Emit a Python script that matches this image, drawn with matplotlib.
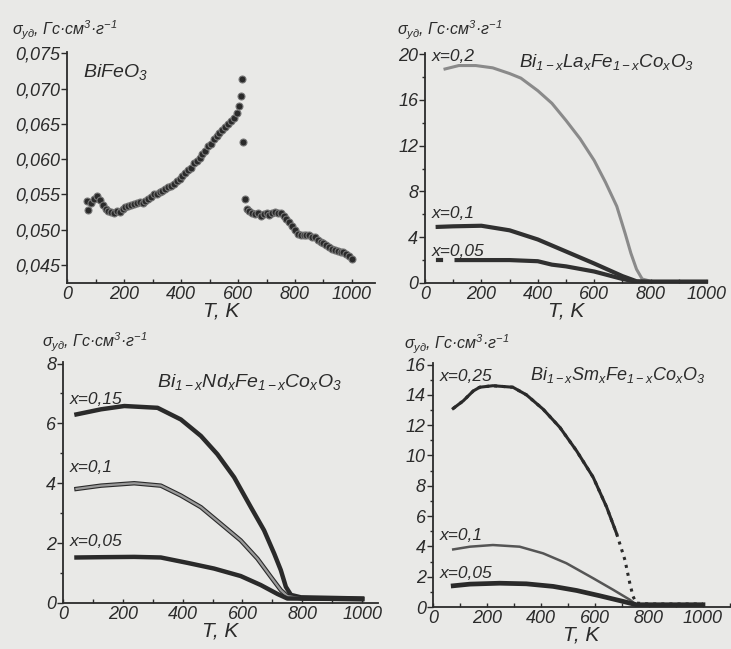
import matplotlib
matplotlib.use("Agg")
import matplotlib.pyplot as plt
from matplotlib.ticker import MultipleLocator

plt.rcParams['font.family'] = ['Liberation Sans', 'DejaVu Sans']
plt.rcParams['font.style'] = 'italic'
plt.rcParams['mathtext.fontset'] = 'custom'
plt.rcParams['mathtext.it'] = 'Liberation Sans:italic'
plt.rcParams['mathtext.rm'] = 'Liberation Sans:italic'
plt.rcParams['mathtext.sf'] = 'Liberation Sans:italic'

# ---- BiFeO3 ----
bfo_T1 = [70, 75, 85, 95, 105, 115, 125, 135, 145, 155, 165, 175, 185, 195, 205, 215, 225,
          235, 245, 255, 265, 275, 285, 295, 305, 315, 325, 335, 345, 355, 365, 375, 385,
          395, 405, 415, 425, 435, 445, 455, 465, 475, 485, 495, 505, 515, 525, 535, 545,
          555, 565, 575, 585, 595, 605, 612, 615, 617]
bfo_s1 = [0.0540, 0.0528, 0.0538, 0.0543, 0.0548, 0.0542, 0.0535, 0.0530, 0.0527, 0.0525,
          0.0524, 0.0526, 0.0525, 0.0530, 0.0532, 0.0533, 0.0535, 0.0536, 0.0538, 0.0539,
          0.0538, 0.0541, 0.0543, 0.0547, 0.0550, 0.0551, 0.0553, 0.0555, 0.0557, 0.0560,
          0.0562, 0.0565, 0.0569, 0.0572, 0.0576, 0.0580, 0.0584, 0.0588, 0.0594, 0.0598,
          0.0602, 0.0607, 0.0611, 0.0618, 0.0622, 0.0628, 0.0633, 0.0637, 0.0642, 0.0646,
          0.0650, 0.0654, 0.0659, 0.0666, 0.0675, 0.0690, 0.0713, 0.0625]
bfo_T2 = [625, 630, 640, 650, 660, 670, 680, 690, 700, 710, 720, 730, 740, 750, 760, 770,
          780, 790, 800, 810, 820, 830, 840, 850, 860, 870, 880, 890, 900, 910, 920, 930,
          940, 950, 960, 970, 980, 990, 1000]
bfo_s2 = [0.0543, 0.0530, 0.0526, 0.0524, 0.0522, 0.0523, 0.0519, 0.0522, 0.0523, 0.0521,
          0.0524, 0.0525, 0.0524, 0.0523, 0.0519, 0.0515, 0.0511, 0.0505, 0.0499, 0.0494,
          0.0493, 0.0492, 0.0493, 0.0492, 0.0490, 0.0489, 0.0486, 0.0483, 0.0481, 0.0479,
          0.0476, 0.0473, 0.0471, 0.0470, 0.0469, 0.0468, 0.0466, 0.0463, 0.0459]

# ---- Bi1-xLaxFe1-xCoxO3 ----
la_T_02 = [71, 120, 180, 240, 300, 340, 400, 450, 500, 550, 600, 640, 680, 710, 730, 750, 770, 800, 1000]
la_s_02 = [18.7, 19.0, 19.0, 18.8, 18.3, 17.9, 16.8, 15.7, 14.2, 12.6, 10.7, 8.8, 6.7, 4.3, 2.6, 1.2, 0.35, 0.15, 0.15]
la_T_01 = [45, 100, 200, 300, 400, 500, 600, 700, 750, 800, 1000]
la_s_01 = [4.9, 4.95, 5.0, 4.6, 3.8, 2.75, 1.7, 0.6, 0.15, 0.1, 0.1]
la_T_005a = [45, 58]
la_s_005a = [2.0, 2.0]
la_T_005 = [112, 200, 300, 400, 450, 500, 600, 700, 750, 1000]
la_s_005 = [2.0, 2.0, 2.0, 1.9, 1.6, 1.45, 1.0, 0.35, 0.1, 0.1]

# ---- Bi1-xNdxFe1-xCoxO3 ----
nd_T_015 = [45, 127, 205, 316, 394, 461, 516, 572, 628, 672, 706, 728, 745, 762, 795, 1000]
nd_s_015 = [6.3, 6.47, 6.58, 6.52, 6.13, 5.58, 4.97, 4.2, 3.2, 2.43, 1.65, 1.1, 0.54, 0.27, 0.19, 0.15]
nd_T_01 = [45, 127, 238, 327, 394, 461, 527, 594, 650, 695, 728, 750, 800, 1000]
nd_s_01 = [3.81, 3.92, 4.0, 3.92, 3.59, 3.2, 2.65, 2.09, 1.48, 0.87, 0.43, 0.23, 0.15, 0.13]
nd_T_005 = [45, 127, 238, 327, 416, 505, 594, 661, 717, 750, 1000]
nd_s_005 = [1.52, 1.53, 1.54, 1.52, 1.34, 1.15, 0.9, 0.6, 0.3, 0.15, 0.13]

# ---- Bi1-xSmxFe1-xCoxO3 ----
sm_T_025 = [75, 112, 149, 173, 222, 296, 346, 408, 470, 532, 593, 643, 680, 711, 729, 741, 753, 800, 1000]
sm_s_025 = [13.1, 13.6, 14.25, 14.5, 14.6, 14.5, 14.0, 13.05, 11.85, 10.3, 8.57, 6.6, 4.85, 3.1, 1.57, 0.7, 0.26, 0.2, 0.2]
sm_T_01 = [75, 137, 222, 321, 408, 494, 593, 667, 729, 753, 1000]
sm_s_01 = [3.8, 3.98, 4.09, 3.98, 3.54, 2.89, 1.9, 1.14, 0.48, 0.15, 0.15]
sm_T_005 = [75, 137, 247, 346, 445, 532, 618, 704, 753, 1000]
sm_s_005 = [1.4, 1.51, 1.57, 1.53, 1.36, 1.09, 0.74, 0.37, 0.15, 0.15]

bfo_yticks = [0.045, 0.050, 0.055, 0.060, 0.065, 0.070, 0.075]
bfo_ylabels = ['0,045', '0,050', '0,055', '0,060', '0,065', '0,070', '0,075']
x_ticks = [0, 200, 400, 600, 800, 1000]
x_labels = ['0', '200', '400', '600', '800', '1000']
la_yticks = [0, 4, 8, 12, 16, 20]
nd_yticks = [0, 2, 4, 6, 8]
sm_yticks = [0, 2, 4, 6, 8, 10, 12, 14, 16]

ylab = r'$\sigma_{уд}$, Гс·см$^3$·г$^{-1}$'
bg = '#e9e9e7'
ink = '#2b2b2b'
tick_fs = 13

fig = plt.figure(figsize=(7.31, 6.49), dpi=100, facecolor=bg)


def style(ax, xmax, ymin, ymax, yticks, ylabels, yminor):
    ax.set_facecolor(bg)
    ax.set_xlim(0, xmax)
    for s in ['top', 'right']:
        ax.spines[s].set_visible(False)
    for s in ['left', 'bottom']:
        ax.spines[s].set_color(ink)
        ax.spines[s].set_linewidth(1.3)
    ax.set_xticks(x_ticks, labels=x_labels, fontstyle='italic', fontsize=tick_fs)
    ax.set_yticks(yticks, labels=ylabels, fontstyle='italic', fontsize=tick_fs)
    ax.set_ylim(ymin, ymax)
    ax.xaxis.set_minor_locator(MultipleLocator(100))
    ax.yaxis.set_minor_locator(MultipleLocator(yminor))
    ax.tick_params(axis='x', which='both', direction='in', length=3, width=1, colors=ink, pad=2)
    ax.tick_params(axis='y', which='major', direction='out', length=4, width=1, colors=ink, pad=1)
    ax.tick_params(axis='y', which='minor', direction='out', length=2, width=1, colors=ink)
    ax.set_xlabel('T, K', fontsize=15, color=ink, labelpad=-1, fontstyle='italic')


# top left
ax1 = fig.add_axes([0.0917, 0.564, 0.421, 0.356])
style(ax1, 1080, 0.04245, 0.0752, bfo_yticks, bfo_ylabels, 0.005)
ax1.plot(bfo_T1, bfo_s1, 'o', ms=5, mfc='#2a2a2a', mec='#777777', mew=0.8)
ax1.plot(bfo_T2, bfo_s2, 'o', ms=5, mfc='#2a2a2a', mec='#777777', mew=0.8)
ax1.text(55, 0.0716, 'BiFeO$_3$', fontsize=14, color=ink)
fig.text(0.016, 0.945, ylab, fontsize=11.5, color=ink)

# top right
ax2 = fig.add_axes([0.5814, 0.564, 0.3858, 0.3544])
style(ax2, 1000, 0, 20.1, la_yticks, [str(v) for v in la_yticks], 2)
ax2.plot(la_T_02, la_s_02, '-', lw=2.2, color='#8a8a8a')
ax2.plot(la_T_01, la_s_01, '-', lw=3, color='#303030')
ax2.plot(la_T_005a, la_s_005a, '-', lw=3, color='#303030')
ax2.plot(la_T_005, la_s_005, '-', lw=3, color='#303030')
ax2.text(25, 19.4, 'x=0,2', fontsize=12.5, color=ink)
ax2.text(25, 5.7, 'x=0,1', fontsize=12.5, color=ink)
ax2.text(25, 2.4, 'x=0,05', fontsize=12.5, color=ink)
ax2.text(335, 18.9, 'Bi$_{1-x}$La$_x$Fe$_{1-x}$Co$_x$O$_3$', fontsize=13.5, color=ink)
fig.text(0.543, 0.945, ylab, fontsize=11.5, color=ink)

# bottom left
ax3 = fig.add_axes([0.0862, 0.0709, 0.4309, 0.3713])
style(ax3, 1053, 0, 8.05, nd_yticks, [str(v) for v in nd_yticks], 1)
ax3.plot(nd_T_015, nd_s_015, '-', lw=3.2, color='#2a2a2a')
ax3.plot(nd_T_01, nd_s_01, '-', lw=3.2, color='#2a2a2a')
ax3.plot(nd_T_01, nd_s_01, '-', lw=1.6, color='#9a9a9a')
ax3.plot(nd_T_005, nd_s_005, '-', lw=3.2, color='#2a2a2a')
ax3.text(23, 6.64, 'x=0,15', fontsize=12.5, color=ink)
ax3.text(23, 4.36, 'x=0,1', fontsize=12.5, color=ink)
ax3.text(23, 1.92, 'x=0,05', fontsize=12.5, color=ink)
ax3.text(315, 7.2, 'Bi$_{1-x}$Nd$_x$Fe$_{1-x}$Co$_x$O$_3$', fontsize=14, color=ink)
fig.text(0.057, 0.465, ylab, fontsize=11.5, color=ink)

# bottom right
ax4 = fig.add_axes([0.5923, 0.0647, 0.4063, 0.376])
style(ax4, 1100, 0, 16.1, sm_yticks, [str(v) for v in sm_yticks], 1)
ax4.plot(sm_T_025, sm_s_025, ':', lw=2.2, color='#2a2a2a')
ax4.plot(sm_T_025[:13], sm_s_025[:13], '-', lw=2.2, color='#2a2a2a')
ax4.plot(sm_T_01, sm_s_01, '-', lw=1.8, color='#555555')
ax4.plot(sm_T_005, sm_s_005, '-', lw=3.4, color='#2a2a2a')
ax4.text(26, 14.9, 'x=0,25', fontsize=12.5, color=ink)
ax4.text(26, 4.41, 'x=0,1', fontsize=12.5, color=ink)
ax4.text(26, 1.9, 'x=0,05', fontsize=12.5, color=ink)
ax4.text(360, 15.0, 'Bi$_{1-x}$Sm$_x$Fe$_{1-x}$Co$_x$O$_3$', fontsize=13, color=ink)
fig.text(0.553, 0.462, ylab, fontsize=11.5, color=ink)

plt.savefig('out.png', dpi=100, facecolor=bg)
